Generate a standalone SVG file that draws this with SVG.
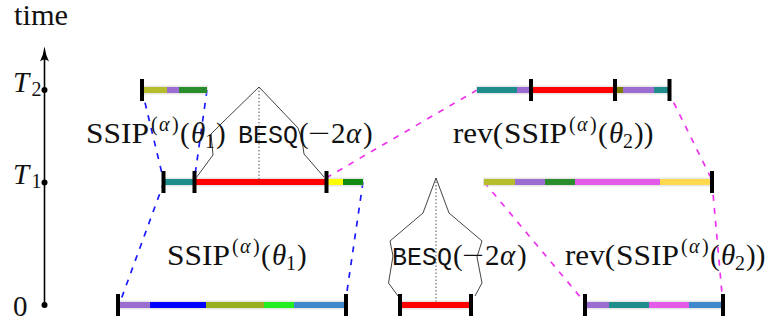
<svg xmlns="http://www.w3.org/2000/svg" width="769" height="321" viewBox="0 0 769 321">
<style>
.halo{fill:#c8c8c8;opacity:.45}
.tick{fill:#000}
.serif{font-family:"Liberation Serif","Times New Roman",serif;font-size:29px;fill:#111}
.it{font-style:italic}
.sm{font-size:20px}
.mono{font-family:"Liberation Mono","Courier New",monospace;font-size:26px;fill:#111}
.bm{fill:none;stroke:#444;stroke-width:1}
.dot{fill:none;stroke:#555;stroke-width:1;stroke-dasharray:1.5 2}
.db{fill:none;stroke:#1a1aff;stroke-width:1.7;stroke-dasharray:6 7}
.dm{fill:none;stroke:#ee33ee;stroke-width:1.7;stroke-dasharray:6 7}
</style>
<rect width="769" height="321" fill="#fff"/>

<g id="axis">
  <line x1="44.5" y1="305" x2="44.5" y2="55" stroke="#000" stroke-width="1.6"/>
  <path d="M44.5,46.5 Q45.6,55 49,61.5 Q44.5,57.5 40,61.5 Q43.4,55 44.5,46.5Z" fill="#000"/>
  <circle cx="44.5" cy="90" r="3"/>
  <circle cx="44.5" cy="182.5" r="3"/>
  <circle cx="44.5" cy="305" r="3"/>
  <text class="serif" x="14" y="25" textLength="54" lengthAdjust="spacingAndGlyphs">time</text>
  <text class="serif"><tspan class="it" x="13" y="91.5">T</tspan><tspan class="sm" x="31.5" y="96">2</tspan></text>
  <text class="serif"><tspan class="it" x="13" y="183.5">T</tspan><tspan class="sm" x="31.5" y="188">1</tspan></text>
  <text class="serif" x="13" y="316">0</text>
</g>

<g id="connectors">
  <line class="db" x1="142" y1="90" x2="164" y2="182"/>
  <line class="db" x1="207" y1="90" x2="194" y2="182"/>
  <line class="db" x1="164" y1="182" x2="119" y2="305"/>
  <line class="db" x1="363" y1="182" x2="345" y2="305"/>
  <line class="dm" x1="326" y1="178" x2="477" y2="90"/>
  <line class="dm" x1="668" y1="91" x2="713" y2="182"/>
  <line class="dm" x1="484" y1="182" x2="587" y2="305"/>
  <line class="dm" x1="712" y1="182" x2="723" y2="305"/>
</g>

<g id="bar-T2-left">
  <rect class="halo" x="141" y="85.5" width="67" height="9"/>
  <rect x="143" y="87" width="24" height="6" fill="#b6bd2c"/>
  <rect x="167" y="87" width="12" height="6" fill="#9b6dd0"/>
  <rect x="179" y="87" width="28" height="6" fill="#2a8c2a"/>
  <rect class="tick" x="140" y="79" width="4" height="22"/>
</g>

<g id="bar-T1-left">
  <rect class="halo" x="162" y="177.5" width="202" height="9"/>
  <rect x="163" y="179" width="31" height="6" fill="#1f8c8c"/>
  <rect x="194" y="179" width="132" height="6" fill="#ff0000"/>
  <rect x="326" y="179" width="17" height="6" fill="#ffff00"/>
  <rect x="343" y="179" width="20" height="6" fill="#138a13"/>
  <rect class="tick" x="161.5" y="171" width="4" height="22"/>
  <rect class="tick" x="192.5" y="171" width="4" height="22"/>
  <rect class="tick" x="324.5" y="171" width="4" height="22"/>
</g>

<g id="bar-0-left">
  <rect class="halo" x="118" y="300.5" width="228" height="9"/>
  <rect x="119" y="302" width="31" height="6" fill="#9b6dd0"/>
  <rect x="150" y="302" width="56" height="6" fill="#0000ff"/>
  <rect x="206" y="302" width="58" height="6" fill="#9aaf1f"/>
  <rect x="264" y="302" width="30" height="6" fill="#22ee22"/>
  <rect x="294" y="302" width="51" height="6" fill="#3f88cc"/>
  <rect class="tick" x="116" y="294" width="4" height="22"/>
  <rect class="tick" x="344" y="294" width="4" height="22"/>
</g>

<g id="besq-upper">
  <line class="dot" x1="259" y1="87" x2="259" y2="182"/>
  <path class="bm" d="M196,178 L213,155 L211,134 L223,122 L259,87 L298,128 L302,140 L304,154 L324,177"/>
</g>

<g id="bar-0-mid">
  <line class="dot" x1="436" y1="178" x2="436" y2="305"/>
  <path class="bm" d="M398,296 L388.5,283 L393,256 L390,241 L423,213 L436,178 L449,213 L482,241 L477,257 L482,283 L475,296"/>
  <rect class="halo" x="399" y="300.5" width="72" height="9"/>
  <rect x="400" y="302" width="70" height="6" fill="#ff0000"/>
  <rect class="tick" x="398" y="294" width="4" height="22"/>
  <rect class="tick" x="469" y="294" width="4" height="22"/>
</g>

<g id="bar-T2-right">
  <rect class="halo" x="476" y="85.5" width="194" height="9"/>
  <rect x="477" y="87" width="40" height="6" fill="#1f8c8c"/>
  <rect x="517" y="87" width="14" height="6" fill="#9b6dd0"/>
  <rect x="531" y="87" width="82" height="6" fill="#ff0000"/>
  <rect x="613" y="87" width="10" height="6" fill="#808000"/>
  <rect x="623" y="87" width="31" height="6" fill="#9b6dd0"/>
  <rect x="654" y="87" width="15" height="6" fill="#1f8c8c"/>
  <rect class="tick" x="529" y="79" width="4" height="22"/>
  <rect class="tick" x="613" y="79" width="4" height="22"/>
  <rect class="tick" x="667.5" y="79" width="4" height="22"/>
</g>

<g id="bar-T1-right">
  <rect class="halo" x="483" y="177.5" width="229" height="9"/>
  <rect x="484" y="179" width="31" height="6" fill="#b6bd2c"/>
  <rect x="515" y="179" width="30" height="6" fill="#9b6dd0"/>
  <rect x="545" y="179" width="30" height="6" fill="#2a8c2a"/>
  <rect x="575" y="179" width="85" height="6" fill="#e45ae8"/>
  <rect x="660" y="179" width="51" height="6" fill="#ffda50"/>
  <rect class="tick" x="710" y="171" width="4" height="22"/>
</g>

<g id="bar-0-right">
  <rect class="halo" x="585" y="300.5" width="138" height="9"/>
  <rect x="586" y="302" width="23" height="6" fill="#9b6dd0"/>
  <rect x="609" y="302" width="40" height="6" fill="#1f8c8c"/>
  <rect x="649" y="302" width="40" height="6" fill="#e45ae8"/>
  <rect x="689" y="302" width="33" height="6" fill="#3f88cc"/>
  <rect class="tick" x="583" y="294" width="4" height="22"/>
  <rect class="tick" x="721" y="294" width="4" height="22"/>
</g>

<g id="label-ssip-upper">
  <text class="serif" x="86" y="143" textLength="63" lengthAdjust="spacingAndGlyphs">SSIP</text>
  <text class="serif sm" y="131"><tspan x="151">(</tspan><tspan class="it" x="159">α</tspan><tspan x="172">)</tspan></text>
  <text class="serif" y="143"><tspan x="180">(</tspan><tspan class="it" x="191">θ</tspan><tspan class="sm" x="205" y="148">1</tspan><tspan x="216" y="143">)</tspan></text>
</g>

<g id="label-besq-upper">
  <text class="mono" x="238" y="143" textLength="60" lengthAdjust="spacingAndGlyphs">BESQ</text>
  <text class="serif" x="299" y="143">(</text>
  <text class="serif" x="308" y="143" textLength="22" lengthAdjust="spacingAndGlyphs">−</text>
  <text class="serif" y="143"><tspan x="331">2</tspan><tspan class="it" x="346">α</tspan><tspan x="363">)</tspan></text>
</g>

<g id="label-rev-upper">
  <text class="serif" x="453" y="143" textLength="50" lengthAdjust="spacingAndGlyphs">rev(</text>
  <text class="serif" x="504" y="143" textLength="63" lengthAdjust="spacingAndGlyphs">SSIP</text>
  <text class="serif sm" y="131"><tspan x="569">(</tspan><tspan class="it" x="577">α</tspan><tspan x="590">)</tspan></text>
  <text class="serif" y="143"><tspan x="598">(</tspan><tspan class="it" x="609">θ</tspan><tspan class="sm" x="623" y="148">2</tspan><tspan x="634" y="143">))</tspan></text>
</g>

<g id="label-ssip-lower">
  <text class="serif" x="167" y="265" textLength="63" lengthAdjust="spacingAndGlyphs">SSIP</text>
  <text class="serif sm" y="253"><tspan x="232">(</tspan><tspan class="it" x="240">α</tspan><tspan x="253">)</tspan></text>
  <text class="serif" y="265"><tspan x="261">(</tspan><tspan class="it" x="272">θ</tspan><tspan class="sm" x="286" y="270">1</tspan><tspan x="297" y="265">)</tspan></text>
</g>

<g id="label-besq-lower">
  <text class="mono" x="392" y="265" textLength="60" lengthAdjust="spacingAndGlyphs">BESQ</text>
  <text class="serif" x="453" y="265">(</text>
  <text class="serif" x="462" y="265" textLength="22" lengthAdjust="spacingAndGlyphs">−</text>
  <text class="serif" y="265"><tspan x="485">2</tspan><tspan class="it" x="500">α</tspan><tspan x="517">)</tspan></text>
</g>

<g id="label-rev-lower">
  <text class="serif" x="565" y="265" textLength="50" lengthAdjust="spacingAndGlyphs">rev(</text>
  <text class="serif" x="616" y="265" textLength="63" lengthAdjust="spacingAndGlyphs">SSIP</text>
  <text class="serif sm" y="253"><tspan x="681">(</tspan><tspan class="it" x="689">α</tspan><tspan x="702">)</tspan></text>
  <text class="serif" y="265"><tspan x="710">(</tspan><tspan class="it" x="721">θ</tspan><tspan class="sm" x="735" y="270">2</tspan><tspan x="746" y="265">))</tspan></text>
</g>
</svg>
